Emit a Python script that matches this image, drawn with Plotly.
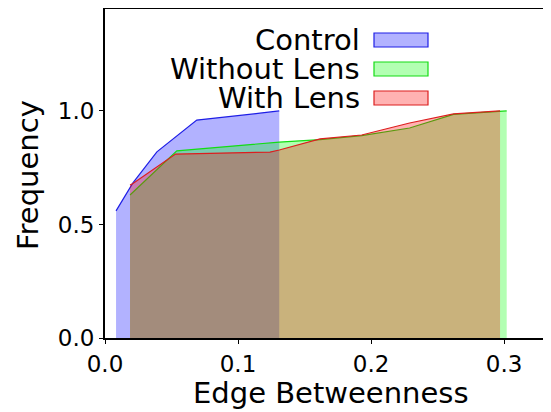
import plotly.graph_objects as go

# ---- data ----
series_names = ["Control", "Without Lens", "With Lens"]

control_x = [0.0083, 0.021, 0.039, 0.055, 0.069, 0.1165, 0.131]
control_y = [0.56, 0.683, 0.82, 0.894, 0.96, 0.99, 1.0]

without_x = [0.0188, 0.054, 0.131, 0.1617, 0.193, 0.229, 0.262, 0.297, 0.302]
without_y = [0.63, 0.824, 0.863, 0.874, 0.891, 0.925, 0.985, 1.0, 1.0]

with_x = [0.0188, 0.021, 0.053, 0.124, 0.131, 0.1617, 0.193, 0.229, 0.262, 0.297]
with_y = [0.674, 0.68, 0.81, 0.819, 0.828, 0.877, 0.894, 0.947, 0.987, 1.0]

x_ticks = [0.0, 0.1, 0.2, 0.3]
x_tick_labels = ["0.0", "0.1", "0.2", "0.3"]
y_ticks = [0.0, 0.5, 1.0]
y_tick_labels = ["0.0", "0.5", "1.0"]

fill_colors = ["rgba(0,0,255,0.3)", "rgba(0,255,0,0.3)", "rgba(255,0,0,0.3)"]
line_colors = ["rgb(30,30,230)", "rgb(20,220,20)", "rgb(220,30,30)"]

FONT = "DejaVu Sans"

fig = go.Figure()
for name, xs, ys, fc, lc in zip(series_names,
                                [control_x, without_x, with_x],
                                [control_y, without_y, with_y],
                                fill_colors, line_colors):
    fig.add_trace(go.Scatter(x=xs, y=ys, mode="lines", name=name,
                             fill="tozeroy", fillcolor=fc,
                             line=dict(color=lc, width=1.2),
                             showlegend=False))

# the page body has an 8px margin, so the figure is 8px smaller than the window
OFF = 8
W, H = 551 - OFF, 412 - OFF
L, R, T, B = 105 - OFF, 0, 1, 412 - 338
pw, ph = W - L - R, H - T - B

# helpers: convert window pixel coordinates to paper coordinates
def px_x(px):
    return (px - OFF - L) / pw

def px_y(py):
    return (H - B - (py - OFF)) / ph

annotations = []
shapes = []
# manual legend: text on the left, swatch on the right
row_centers = [40, 69, 98]
for name, fc, lc, cy in zip(series_names, fill_colors, line_colors, row_centers):
    annotations.append(dict(text=name, xref="paper", yref="paper",
                            x=px_x(362), y=px_y(cy), xanchor="right", yanchor="middle",
                            showarrow=False, font=dict(family=FONT, size=29, color="black")))
    shapes.append(dict(type="rect", xref="paper", yref="paper",
                       x0=px_x(374), x1=px_x(428), y0=px_y(cy - 7), y1=px_y(cy + 7),
                       fillcolor=fc, line=dict(color=lc, width=1.2)))

annotations.append(dict(text="Frequency", xref="paper", yref="paper",
                        x=px_x(28), y=px_y(175), xanchor="center", yanchor="middle",
                        textangle=-90, showarrow=False,
                        font=dict(family=FONT, size=29, color="black")))
annotations.append(dict(text="Edge Betweenness", xref="paper", yref="paper",
                        x=px_x(331), y=px_y(393), xanchor="center", yanchor="middle",
                        showarrow=False,
                        font=dict(family=FONT, size=29, color="black")))

fig.update_layout(
    width=W, height=H,
    margin=dict(l=L, r=R, t=T, b=B, pad=0),
    plot_bgcolor="white", paper_bgcolor="white",
    font=dict(family=FONT, color="black"),
    annotations=annotations, shapes=shapes,
    xaxis=dict(range=[0, 0.3353], tickvals=x_ticks, ticktext=x_tick_labels,
               showgrid=False, zeroline=False, showline=True, mirror=True,
               linecolor="black", linewidth=2, ticks="outside", ticklen=4,
               tickcolor="black", tickfont=dict(family=FONT, size=23, color="black")),
    yaxis=dict(range=[0, 1.449], tickvals=y_ticks, ticktext=y_tick_labels,
               showgrid=False, zeroline=False, showline=True, mirror=False,
               linecolor="black", linewidth=2, ticks="outside", ticklen=4,
               tickcolor="black", tickfont=dict(family=FONT, size=23, color="black")),
)

fig.write_html("out.html")
